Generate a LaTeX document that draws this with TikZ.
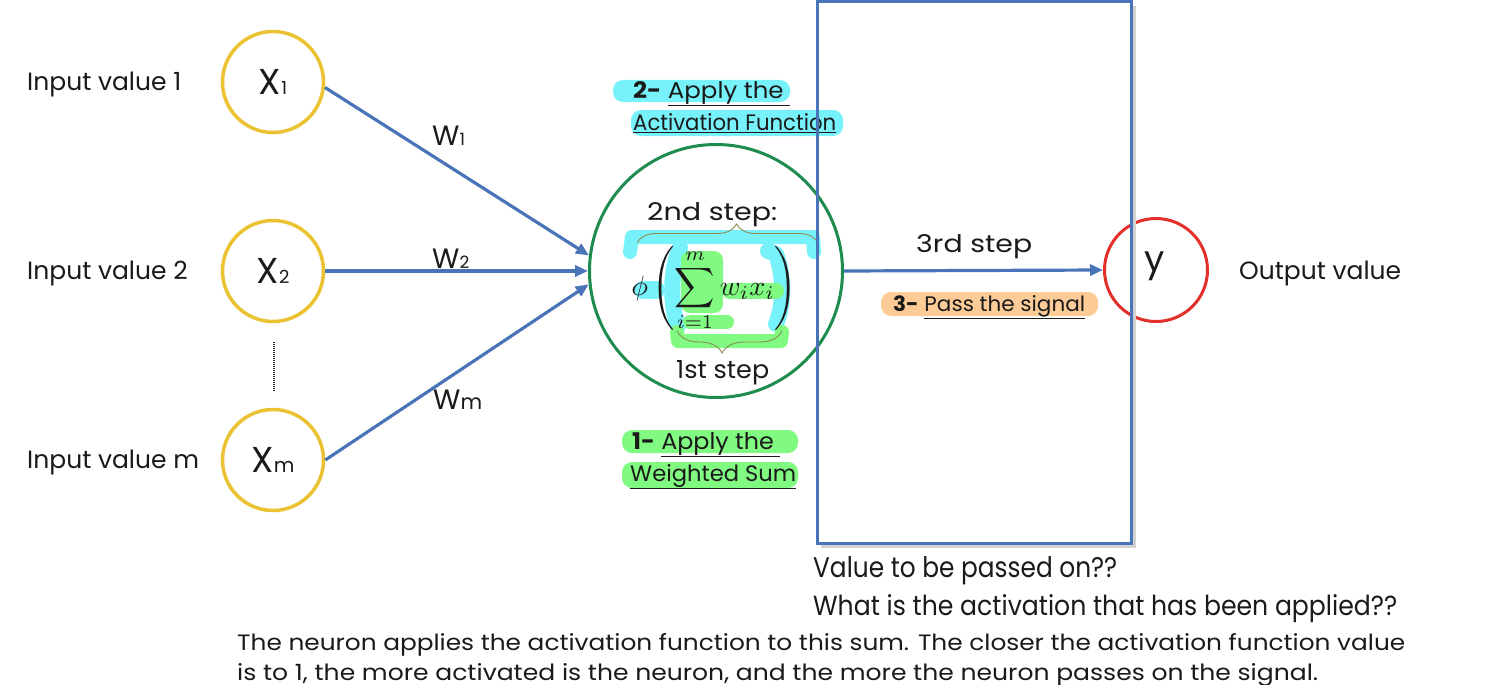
\documentclass[tikz,border=0pt]{standalone}
\usepackage[no-math]{fontspec}
\usepackage{graphicx}
\setmainfont{Poppins}
\usetikzlibrary{arrows.meta,decorations.pathreplacing}
\definecolor{blueln}{HTML}{4A74B8}
\definecolor{yel}{HTML}{EBC232}
\definecolor{grn}{HTML}{1E8B4F}
\definecolor{redc}{HTML}{E3302A}
\definecolor{hlcyan}{HTML}{78F2FA}
\definecolor{hlgreen}{HTML}{80FA80}
\definecolor{hlorange}{HTML}{FDCB96}
\definecolor{bracec}{HTML}{8C8C55}
\definecolor{txt}{HTML}{1A1A1A}
\newcommand\fsz[1]{\fontsize{#1pt}{#1pt}\selectfont}
% width, height above baseline, text
\newcommand\fitto[3]{\resizebox{#1pt}{#2pt}{\fsz{20}#3}}
\begin{document}
\begin{tikzpicture}[x=1pt,y=-1pt,text=txt,
  incirc/.style={circle,draw=yel,line width=3.5pt,minimum size=101pt,inner sep=0pt,fill=white},
  conn/.style={draw=blueln,line width=3.2pt,-{Triangle[length=13pt,width=11pt]}},
  lbl/.style={anchor=base west,inner sep=0pt},
  clbl/.style={anchor=base,inner sep=0pt},
  hlpen/.style={line width=#1,line cap=round,line join=round},
  bracepen/.style={draw=bracec,line width=0.9pt,decorate},
  hlbox/.style={rounded corners=10pt}
]
\useasboundingbox (0,0) rectangle (1489,685);
\fill[white] (0,0) rectangle (1489,685);

% highlight boxes for the step captions
\fill[hlcyan,hlbox] (613,80) rectangle (790,102);
\fill[hlcyan,hlbox] (631,110) rectangle (843,136);
\fill[hlorange,hlbox] (881,292) rectangle (1098,316);
\fill[hlgreen,hlbox] (622,430) rectangle (798,453);
\fill[hlgreen,hlbox] (622,462) rectangle (798,488);

% neuron
\node[circle,draw=grn,line width=3pt,minimum size=253pt,inner sep=0pt] (neuron) at (716,271) {};

% marker strokes inside the neuron
\draw[hlcyan,hlpen=14pt] (630,252) -- (632,237) -- (813,237) -- (814,252);
\draw[hlcyan,hlpen=18pt] (643,290) -- (656,290);
\draw[hlcyan,hlpen=16pt] (680,248) .. controls (670,270) and (670,305) .. (678,326);
\draw[hlcyan,hlpen=16pt] (768,251) -- (776,254) .. controls (784,275) and (784,305) .. (776,324);
\fill[hlgreen,rounded corners=9pt] (681,251) rectangle (723,313);
\draw[hlgreen,hlpen=16pt] (730,291) -- (776,291);
\draw[hlgreen,hlpen=14pt] (690,322) -- (727,322);
\draw[hlgreen,hlpen=14pt] (677,332) -- (678,341) -- (781,341) -- (782,332);

% formula and braces
\node[inner sep=0pt] (formula) at (714,289)
  {\scalebox{2.8}{\fsz{10}$\displaystyle\phi\left(\sum_{i=1}^{m}w_ix_i\right)$}};
\draw[bracepen,decoration={brace,amplitude=19pt,aspect=0.55}] (637,243) -- (818,243);
\draw[bracepen,decoration={brace,amplitude=22pt,aspect=0.57}] (782,331) -- (677,331);
\node[lbl] (step2) at (647,220) {\fitto{130}{18}{2nd step:}};
\node[lbl] (step1) at (676,378) {\fitto{93}{18}{1st step}};

% inputs
\node[incirc] (x1) at (273,82) {\fsz{36}X{\fsz{18}1}};
\node[incirc] (x2) at (273,271) {\fsz{36}X{\fsz{18}2}};
\node[incirc] (xm) at (273,460) {\fsz{36}X{\fsz{20}m}};
\coordinate (dtop) at (274,342);
\coordinate (dbot) at (274,391);
\draw[line width=2pt,dash pattern=on 1pt off 1pt,black!85] (dtop) -- (dbot);

\node[lbl,font=\fsz{25}] (in1) at (27,90) {Input value 1};
\node[lbl,font=\fsz{25}] (in2) at (27,279) {Input value 2};
\node[lbl,font=\fsz{25}] (inm) at (27,468) {Input value m};

% weighted connections
\draw[conn] (x1.-6) -- (neuron.173);
\draw[conn] (x2.east) -- (neuron.180);
\draw[conn] (xm.east) -- (neuron.186);
\node[lbl,font=\fsz{28}] (w1) at (432,145) {W{\fsz{17}1}};
\node[lbl,font=\fsz{28}] (w2) at (432,268) {W{\fsz{17}2}};
\node[lbl,font=\fsz{28}] (wm) at (433,409) {W{\fsz{21}m}};

% output
\node[circle,draw=redc,line width=3pt,minimum size=103pt,inner sep=0pt] (yout) at (1156,270) {};
\node[inner sep=0pt,font=\fsz{36}] (ylab) at (1155,266) {y};
\draw[conn] (neuron.east) -- (yout.west);
\node[lbl] (step3) at (916,252) {\fitto{116}{18}{3rd step}};
\node[lbl,font=\fsz{25}] (outv) at (1239,279) {Output value};

% step captions
\node[lbl] (c2a) at (633,98) {\fitto{157}{17}{\textbf{2-} \underline{Apply the\ }}};
\node[lbl] (c2b) at (633,130) {\fitto{203}{17}{\underline{Activation Function}}};
\node[lbl] (c3) at (893,311) {\fitto{192}{16}{\textbf{3-} \underline{Pass the signal}}};
\node[lbl] (c1a) at (632,449) {\fitto{148}{17}{\textbf{1-} \underline{Apply the\ }}};
\node[lbl] (c1b) at (630,481) {\fitto{166}{17}{\underline{Weighted Sum}}};

% framing rectangle
\draw[black!18,line width=3pt] (1134.5,6) -- (1134.5,546.5) -- (821,546.5);
\draw[blueln,line width=3pt] (817,2) rectangle (1131,543);

% bottom texts
\node[lbl] (q1) at (813,577) {\fitto{304}{21}{Value to be passed on??}};
\node[lbl] (q2) at (813,615) {\fitto{584}{21}{What is the activation that has been applied??}};
\node[lbl] (b1) at (237,650) {\fitto{1168}{17}{The neuron applies the activation function to this sum. The closer the activation function value}};
\node[lbl] (b2) at (237,680) {\fitto{1081}{17}{is to 1, the more activated is the neuron, and the more the neuron passes on the signal.}};
\end{tikzpicture}
\end{document}
